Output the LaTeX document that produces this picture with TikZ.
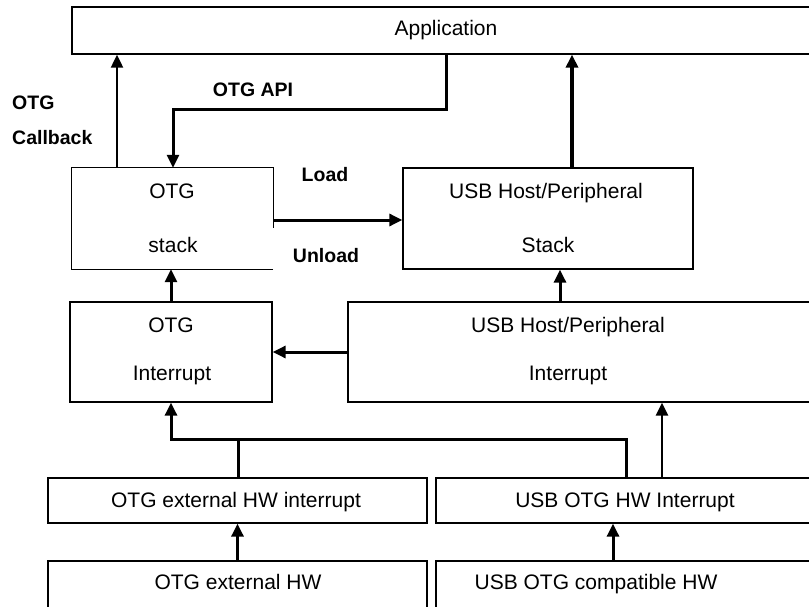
\documentclass[tikz,border=0pt]{standalone}
\usepackage{fontspec}
\setmainfont{Liberation Sans}
\usetikzlibrary{arrows.meta}

\begin{document}
\begin{tikzpicture}[x=1pt,y=-1pt,
  box/.style={draw, line width=1.3pt, inner sep=0pt},
  hidden/.style={inner sep=0pt},
  txt/.style={inner sep=0pt, anchor=base, font=\fontsize{21}{24}\selectfont},
  lbl/.style={inner sep=0pt, anchor=base, font=\fontsize{19.5}{22}\selectfont\bfseries},
  arr/.style={-{Triangle[length=13pt,width=12pt]}},
  wire/.style={line width=3pt},
  thinwire/.style={line width=2pt},
  midwire/.style={line width=2.5pt}]

\useasboundingbox (0,0) rectangle (809,607);
\fill[white] (0,0) rectangle (809,607);
\clip (0,0) rectangle (809,607);

% blocks
\node[box, minimum width=748pt, minimum height=47pt] (app) at (446,30.5) {};
\node[hidden, minimum width=201pt, minimum height=101pt] (ostack) at (172.5,218.5) {};
\node[box, minimum width=290pt, minimum height=101pt] (ustack) at (548,218.5) {};
\node[box, minimum width=202pt, minimum height=100pt] (oint) at (171,352) {};
\node[box, minimum width=472pt, minimum height=100pt] (uint) at (584,352) {};
\node[box, minimum width=379pt, minimum height=45pt] (oexti) at (237.5,500.5) {};
\node[box, minimum width=384pt, minimum height=45pt] (uotgi) at (628,500.5) {};
\node[box, minimum width=379pt, minimum height=59pt] (oext) at (237.5,590.5) {};
\node[box, minimum width=384pt, minimum height=59pt] (ucompat) at (628,590.5) {};

% OTG stack outline, open at the lower right
\draw[line width=1.3pt] (ostack.south east) -- (ostack.south west) -- (ostack.north west)
  -- (ostack.north east) -- ++(0,60);

% block texts
\node[txt] (tapp) at (446,36) {Application};
\node[txt] (tos1) at (172,199) {OTG};
\node[txt] (tos2) at (173,252) {stack};
\node[txt] (tus1) at (546,199) {USB Host/Peripheral};
\node[txt] (tus2) at (548,252) {Stack};
\node[txt] (toi1) at (171,332) {OTG};
\node[txt] (toi2) at (172,380) {Interrupt};
\node[txt] (tui1) at (568,332) {USB Host/Peripheral};
\node[txt] (tui2) at (568,380) {Interrupt};
\node[txt] (toxi) at (236,507) {OTG external HW interrupt};
\node[txt] (tuoi) at (625,507) {USB OTG HW Interrupt};
\node[txt] (tox)  at (238,589) {OTG external HW};
\node[txt] (tuc)  at (596,589) {USB OTG compatible HW};

% connector labels
\node[lbl] (lapi) at (253,97) {OTG API};
\node[lbl, anchor=base west] (lcb1) at (12,110) {OTG};
\node[lbl, anchor=base west] (lcb2) at (12,145) {Callback};
\node[lbl] (lload) at (325,182) {Load};
\node[lbl] (lunload) at (326,262) {Unload};

% routing points
\coordinate (cbx) at (117,0);
\coordinate (apia) at (446,110);
\coordinate (apib) at (173,110);
\coordinate (ldy) at (0,220);
\coordinate (upx) at (572,0);
\coordinate (usx) at (560,0);
\coordinate (busl) at (171,439);
\coordinate (busm) at (238,439);
\coordinate (busr) at (626,439);
\coordinate (hwx) at (613,0);
\coordinate (uix) at (662,0);

% connectors
\draw[thinwire, arr] (cbx |- ostack.north) -- (cbx |- app.south);
\draw[wire, arr] (app.south -| apia) -- (apia) -- (apib) -- (apib |- ostack.north);
\draw[wire, arr] (ostack.east |- ldy) -- (ustack.west |- ldy);
\draw[line width=3.5pt, arr] (ustack.north -| upx) -- (app.south -| upx);
\draw[wire, arr] (oint.north) -- (oint.north |- ostack.south);
\draw[wire, arr] (uint.north -| usx) -- (ustack.south -| usx);
\draw[wire, arr] (uint.west) -- (oint.east);
\draw[wire, arr] (uotgi.north -| busr) -- (busr) -- (busl) -- (busl |- oint.south);
\draw[wire] (oexti.north -| busm) -- (busm);
\draw[wire, arr] (oext.north) -- (oexti.south);
\draw[wire, arr] (ucompat.north -| hwx) -- (uotgi.south -| hwx);
\draw[midwire, arr] (uotgi.north -| uix) -- (uint.south -| uix);

\end{tikzpicture}
\end{document}
